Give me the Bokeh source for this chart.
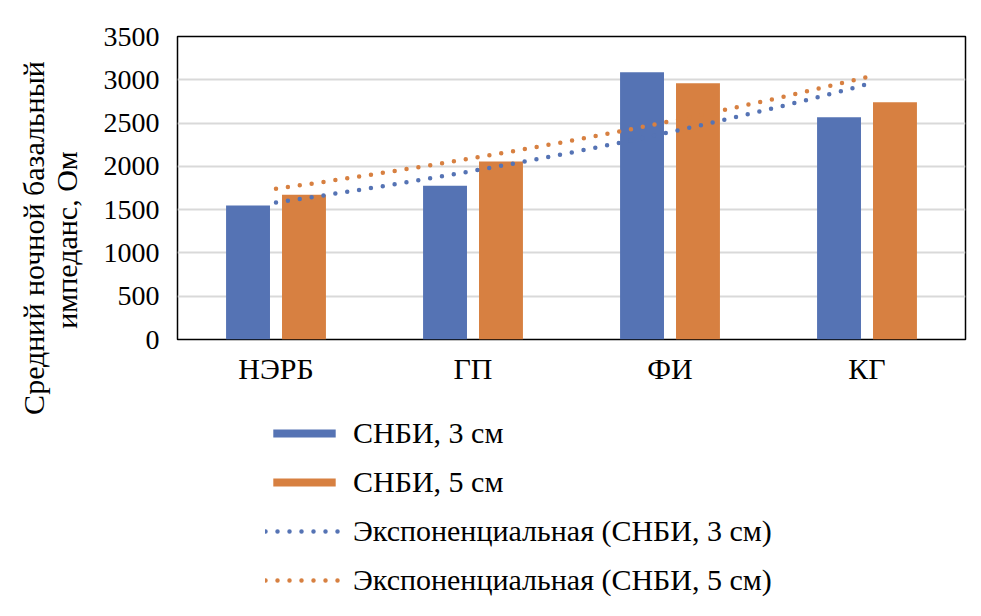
import math
import numpy as np
from bokeh.plotting import figure
from bokeh.layouts import row, column
from bokeh.models import Range1d, FixedTicker, Legend, LegendItem, Label
from bokeh.embed import file_html
from bokeh.resources import INLINE

categories = ["НЭРБ", "ГП", "ФИ", "КГ"]
snbi3 = [1548, 1775, 3088, 2568]
snbi5 = [1671, 2056, 2961, 2741]
y_ticks = [0, 500, 1000, 1500, 2000, 2500, 3000, 3500]
series_names = ["СНБИ, 3 см", "СНБИ, 5 см",
                "Экспоненциальная (СНБИ, 3 см)", "Экспоненциальная (СНБИ, 5 см)"]
y_title = ["Средний ночной базальный", "импеданс, Ом"]

BLUE = "#5573B4"
ORANGE = "#D78041"
FONT = "Liberation Serif"

idx = np.arange(1, len(categories) + 1)

def exp_fit(vals):
    b, ln_a = np.polyfit(idx, np.log(vals), 1)
    xs = np.linspace(idx[0], idx[-1], 200)
    return xs, np.exp(ln_a + b * xs)

# ---- main chart ----
p = figure(width=873, height=400, frame_width=788, frame_height=303,
           min_border_left=76, min_border_top=36, min_border_right=9,
           min_border_bottom=61,
           x_range=Range1d(0.5, len(categories) + 0.5), y_range=Range1d(0, 3500),
           output_backend="svg", toolbar_location=None)

bw = 0.223
off = 0.142
p.vbar(x=idx - off, top=snbi3, width=bw, fill_color=BLUE, line_color=None)
p.vbar(x=idx + off, top=snbi5, width=bw, fill_color=ORANGE, line_color=None)

x3, t3 = exp_fit(snbi3)
x5, t5 = exp_fit(snbi5)
p.line(x3, t3, line_color=BLUE, line_width=4.5, line_dash="0 12", line_cap="round")
p.line(x5, t5, line_color=ORANGE, line_width=4.5, line_dash="0 12", line_cap="round")

p.outline_line_color = "#000000"
p.outline_line_width = 1.5
p.xgrid.visible = False
p.ygrid.grid_line_color = "#D9D9D9"
p.ygrid.grid_line_width = 2
p.ygrid.ticker = FixedTicker(ticks=y_ticks)

p.yaxis.ticker = FixedTicker(ticks=y_ticks)
p.xaxis.ticker = FixedTicker(ticks=list(idx))
p.xaxis.major_label_overrides = {int(i): c for i, c in zip(idx, categories)}
for ax in (p.xaxis[0], p.yaxis[0]):
    ax.axis_line_color = None
    ax.major_tick_line_color = None
    ax.minor_tick_line_color = None
    ax.major_tick_out = 0
    ax.major_tick_in = 0
    ax.minor_tick_out = 0
    ax.minor_tick_in = 0
    ax.major_label_text_font = FONT
    ax.major_label_text_color = "#000000"
p.yaxis.major_label_text_font_size = "28px"
p.xaxis.major_label_text_font_size = "30px"
p.yaxis.major_label_standoff = 18
p.xaxis.major_label_standoff = 12

# ---- y-axis title strip ----
tf = figure(width=100, height=608, frame_width=100, frame_height=608,
            min_border=0, x_range=Range1d(0, 100), y_range=Range1d(0, 608),
            x_axis_type=None, y_axis_type=None, output_backend="svg",
            toolbar_location=None)
tf.grid.visible = False
tf.outline_line_color = None
tf.add_layout(Label(x=33, y=608 - 237.5, angle=math.pi / 2, text=y_title[0],
                    text_font=FONT, text_font_size="30px", text_align="center",
                    text_baseline="middle", text_color="#000000"))
tf.add_layout(Label(x=66, y=608 - 239.5, angle=math.pi / 2, text=y_title[1],
                    text_font=FONT, text_font_size="30px", text_align="center",
                    text_baseline="middle", text_color="#000000"))

# ---- legend strip ----
lf = figure(width=873, height=208, frame_width=873, frame_height=208,
            min_border=0, x_range=Range1d(0, 873), y_range=Range1d(0, 208),
            x_axis_type=None, y_axis_type=None, output_backend="svg",
            toolbar_location=None)
lf.grid.visible = False
lf.outline_line_color = None
# legend proxies, placed far outside the visible range
d1 = lf.vbar(x=[-500], top=[-500], bottom=[-501], width=1, fill_color=BLUE, line_color=None)
d2 = lf.vbar(x=[-500], top=[-500], bottom=[-501], width=1, fill_color=ORANGE, line_color=None)
d3 = lf.line(x=[-510, -500], y=[-500, -500], line_color=BLUE, line_width=4.5,
             line_dash="0 12", line_cap="round")
d4 = lf.line(x=[-510, -500], y=[-500, -500], line_color=ORANGE, line_width=4.5,
             line_dash="0 12", line_cap="round")

legend = Legend(items=[LegendItem(label=series_names[0], renderers=[d1]),
                       LegendItem(label=series_names[1], renderers=[d2]),
                       LegendItem(label=series_names[2], renderers=[d3]),
                       LegendItem(label=series_names[3], renderers=[d4])],
                location=(165, 11), orientation="vertical",
                glyph_width=78, glyph_height=10, label_height=34, spacing=15,
                padding=0, margin=0, border_line_color=None, background_fill_alpha=0,
                label_text_font=FONT, label_text_font_size="30px",
                label_standoff=10, label_text_color="#000000")
lf.add_layout(legend, "center")

layout = row(tf, column(p, lf, spacing=0), spacing=0)
open("out.html", "w").write(file_html(layout, INLINE))
